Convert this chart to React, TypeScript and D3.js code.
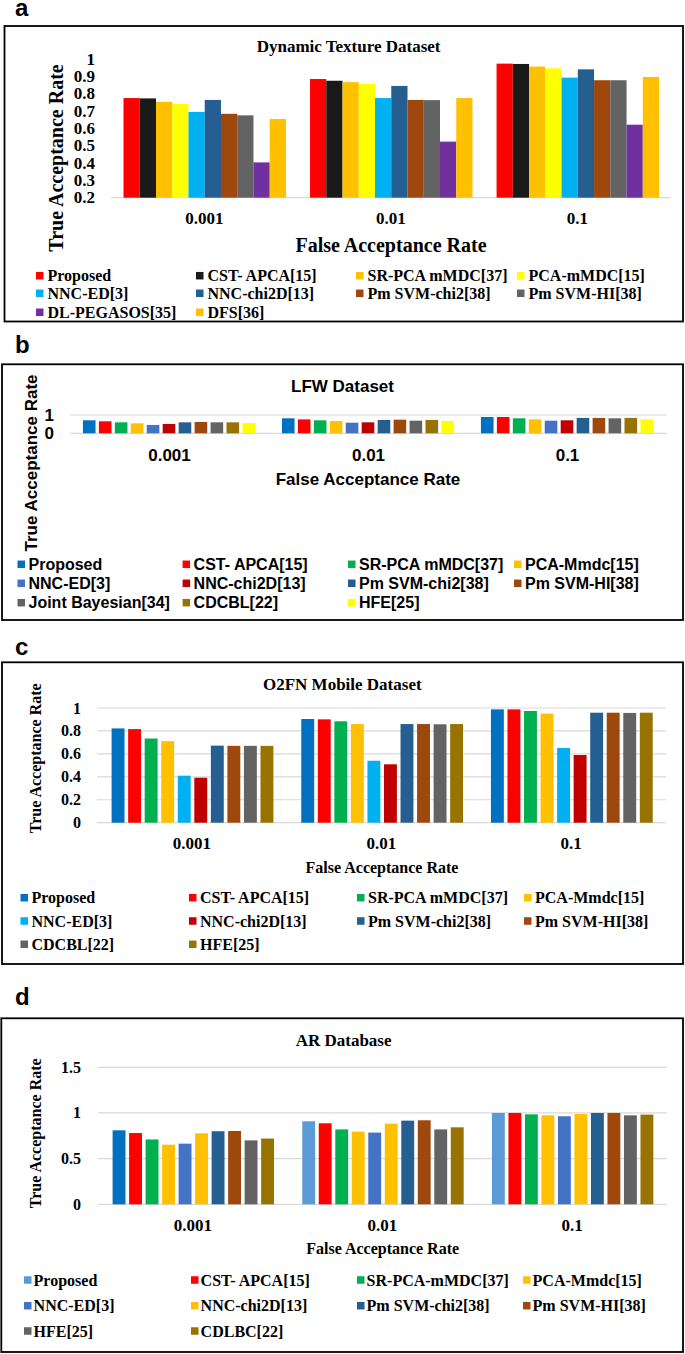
import React from "react";
import * as d3 from "d3";

const farCategories = ["0.001", "0.01", "0.1"];

// ---- Panel a: Dynamic Texture Dataset ----
const dtSeries = [
  "Proposed", "CST- APCA[15]", "SR-PCA mMDC[37]", "PCA-mMDC[15]",
  "NNC-ED[3]", "NNC-chi2D[13]", "Pm SVM-chi2[38]", "Pm SVM-HI[38]",
  "DL-PEGASOS[35]", "DFS[36]",
];
const dtColors = ["#FF0000", "#1A1A1A", "#FFC000", "#FFFF00", "#00B0F0", "#255E91", "#9E480E", "#636363", "#7030A0", "#FFC000"];
const dtValues = [
  [0.776, 0.886, 0.975],
  [0.774, 0.876, 0.973],
  [0.754, 0.868, 0.958],
  [0.742, 0.858, 0.948],
  [0.696, 0.776, 0.894],
  [0.765, 0.846, 0.942],
  [0.685, 0.765, 0.879],
  [0.676, 0.764, 0.879],
  [0.404, 0.524, 0.622],
  [0.655, 0.776, 0.898],
];
const dtTicks = [0.2, 0.3, 0.4, 0.5, 0.6, 0.7, 0.8, 0.9, 1];

// ---- Panel b: LFW Dataset ----
const lfwSeries = [
  "Proposed", "CST- APCA[15]", "SR-PCA mMDC[37]", "PCA-Mmdc[15]",
  "NNC-ED[3]", "NNC-chi2D[13]", "Pm SVM-chi2[38]", "Pm SVM-HI[38]",
  "Joint Bayesian[34]", "CDCBL[22]", "HFE[25]",
];
const lfwColors = ["#0070C0", "#FF0000", "#00B050", "#FFC000", "#4472C4", "#C00000", "#255E91", "#9E480E", "#636363", "#997300", "#FFFF00"];
const lfwValues = [
  [0.71, 0.82, 0.89],
  [0.655, 0.76, 0.89],
  [0.6, 0.71, 0.82],
  [0.545, 0.67, 0.76],
  [0.455, 0.58, 0.69],
  [0.51, 0.6, 0.71],
  [0.6, 0.73, 0.84],
  [0.62, 0.745, 0.84],
  [0.6, 0.69, 0.82],
  [0.6, 0.73, 0.84],
  [0.56, 0.67, 0.76],
];
const lfwTicks = [0, 1];

// ---- Panel c: O2FN Mobile Dataset ----
const o2fnSeries = [
  "Proposed", "CST- APCA[15]", "SR-PCA mMDC[37]", "PCA-Mmdc[15]",
  "NNC-ED[3]", "NNC-chi2D[13]", "Pm SVM-chi2[38]", "Pm SVM-HI[38]",
  "CDCBL[22]", "HFE[25]",
];
const o2fnColors = ["#0070C0", "#FF0000", "#00B050", "#FFC000", "#00B0F0", "#C00000", "#255E91", "#9E480E", "#636363", "#997300"];
const o2fnValues = [
  [0.822, 0.904, 0.988],
  [0.816, 0.901, 0.988],
  [0.734, 0.884, 0.974],
  [0.711, 0.86, 0.951],
  [0.41, 0.54, 0.651],
  [0.392, 0.509, 0.59],
  [0.672, 0.86, 0.959],
  [0.67, 0.86, 0.959],
  [0.67, 0.858, 0.957],
  [0.67, 0.86, 0.959],
];
const o2fnTicks = [0, 0.2, 0.4, 0.6, 0.8, 1];

// ---- Panel d: AR Database ----
const arSeries = [
  "Proposed", "CST- APCA[15]", "SR-PCA-mMDC[37]", "PCA-Mmdc[15]",
  "NNC-ED[3]", "NNC-chi2D[13]", "Pm SVM-chi2[38]", "Pm SVM-HI[38]",
  "HFE[25]", "CDLBC[22]",
];
const arColors = ["#5B9BD5", "#FF0000", "#00B050", "#FFC000", "#4472C4", "#FFC000", "#255E91", "#9E480E", "#636363", "#997300"];
const arValues = [
  [0.81, 0.909, 1.0],
  [0.78, 0.887, 1.0],
  [0.71, 0.82, 0.985],
  [0.653, 0.796, 0.974],
  [0.664, 0.785, 0.964],
  [0.777, 0.883, 0.989],
  [0.8, 0.916, 1.0],
  [0.803, 0.92, 1.0],
  [0.7, 0.82, 0.974],
  [0.72, 0.843, 0.982],
];
const arTicks = [0, 0.5, 1, 1.5];

const SERIF = "'Liberation Serif', 'Times New Roman', serif";
const SANS = "'Liberation Sans', Arial, sans-serif";
const GRID = "#D9D9D9";

type Cfg = {
  letter: string; letterY: number;
  box: [number, number, number, number];
  font: string;
  title: string; titleX: number; titleY: number; titleSize: number;
  yDomain: [number, number]; yRange: [number, number]; ticks: number[];
  tickX: number; tickSize: number; grid: boolean;
  yTitleX: number; yTitleY: number; yTitleSize: number;
  xRange: [number, number]; groupPad: [number, number]; barPad: number;
  catY: number; catSize: number;
  xTitleX: number; xTitleY: number; xTitleSize: number;
  legendRows: number[]; legendCols: number[]; legendDx: number; legendSize: number; swatch: number;
  series: string[]; colors: string[]; values: number[][];
  firstGroupColor?: string;
};

function Panel({ c }: { c: Cfg }) {
  const y = d3.scaleLinear().domain(c.yDomain).range(c.yRange);
  const x0 = d3.scaleBand<string>().domain(farCategories).range(c.xRange);
  const bw = x0.bandwidth();
  const x1 = d3
    .scaleBand<string>()
    .domain(c.series)
    .range([bw * c.groupPad[0], bw * c.groupPad[1]])
    .paddingInner(c.barPad);
  const base = y(c.yDomain[0]);
  return (
    <g>
      <text x={15} y={c.letterY} fontFamily={SANS} fontWeight="bold" fontSize={24}>{c.letter}</text>
      <rect x={c.box[0]} y={c.box[1]} width={c.box[2]} height={c.box[3]} fill="#fff" stroke="#000" strokeWidth={1.8} />
      <text x={c.titleX} y={c.titleY} textAnchor="middle" dominantBaseline="central" fontFamily={c.font} fontWeight="bold" fontSize={c.titleSize}>{c.title}</text>
      {c.ticks.map((t) => (
        <g key={t}>
          {(c.grid || t === c.yDomain[0]) && (
            <line x1={c.xRange[0]} x2={c.xRange[1]} y1={y(t)} y2={y(t)} stroke={GRID} strokeWidth={1.2} />
          )}
          <text x={c.tickX} y={y(t)} textAnchor="end" dominantBaseline="central" fontFamily={c.font} fontWeight="bold" fontSize={c.tickSize}>{String(t)}</text>
        </g>
      ))}
      <text transform={`translate(${c.yTitleX},${c.yTitleY}) rotate(-90)`} textAnchor="middle" dominantBaseline="central" fontFamily={c.font} fontWeight="bold" fontSize={c.yTitleSize}>True Acceptance Rate</text>
      {farCategories.map((cat, gi) => (
        <g key={cat} transform={`translate(${x0(cat)},0)`}>
          {c.series.map((s, si) => {
            const v = c.values[si][gi];
            const col = gi === 0 && si === 0 && c.firstGroupColor ? c.firstGroupColor : c.colors[si];
            return <rect key={s} x={x1(s)} y={y(v)} width={x1.bandwidth()} height={base - y(v)} fill={col} />;
          })}
          <text x={bw / 2} y={c.catY} textAnchor="middle" dominantBaseline="central" fontFamily={c.font} fontWeight="bold" fontSize={c.catSize}>{cat}</text>
        </g>
      ))}
      <text x={c.xTitleX} y={c.xTitleY} textAnchor="middle" dominantBaseline="central" fontFamily={c.font} fontWeight="bold" fontSize={c.xTitleSize}>False Acceptance Rate</text>
      {c.series.map((s, i) => {
        const r = Math.floor(i / 4);
        const col = i % 4;
        const lx = c.legendCols[col];
        const ly = c.legendRows[r];
        return (
          <g key={s}>
            <rect x={lx} y={ly - c.swatch / 2} width={c.swatch} height={c.swatch} fill={c.colors[i]} />
            <text x={lx + c.legendDx} y={ly} dominantBaseline="central" fontFamily={c.font} fontWeight="bold" fontSize={c.legendSize}>{s}</text>
          </g>
        );
      })}
    </g>
  );
}

const panelA: Cfg = {
  letter: "a", letterY: 16, box: [4.5, 26, 678.5, 295.5], font: SERIF,
  title: "Dynamic Texture Dataset", titleX: 348.6, titleY: 46.7, titleSize: 17,
  yDomain: [0.2, 1], yRange: [197.7, 59.3], ticks: dtTicks, tickX: 95, tickSize: 17, grid: false,
  yTitleX: 55.5, yTitleY: 158, yTitleSize: 20,
  xRange: [111, 670.6], groupPad: [0.067, 0.938], barPad: 0,
  catY: 218, catSize: 17, xTitleX: 391, xTitleY: 245, xTitleSize: 20,
  legendRows: [275.7, 293.3, 312.3], legendCols: [36, 196, 356, 517], legendDx: 11.5, legendSize: 16, swatch: 7.5,
  series: dtSeries, colors: dtColors, values: dtValues,
};

const panelB: Cfg = {
  letter: "b", letterY: 353.3, box: [2, 364.3, 681, 255.7], font: SANS,
  title: "LFW Dataset", titleX: 342.5, titleY: 386.7, titleSize: 17,
  yDomain: [0, 1], yRange: [433.3, 415], ticks: lfwTicks, tickX: 54, tickSize: 17, grid: true,
  yTitleX: 31.5, yTitleY: 463, yTitleSize: 17,
  xRange: [70, 667], groupPad: [0.065, 0.93], barPad: 0.21,
  catY: 455, catSize: 17, xTitleX: 368, xTitleY: 479, xTitleSize: 17,
  legendRows: [564.3, 583.3, 602.7], legendCols: [17.5, 182.6, 348, 514], legendDx: 11, legendSize: 16, swatch: 7.5,
  series: lfwSeries, colors: lfwColors, values: lfwValues,
};

const panelC: Cfg = {
  letter: "c", letterY: 655, box: [2, 662.3, 681, 301.7], font: SERIF,
  title: "O2FN Mobile Dataset", titleX: 342.3, titleY: 684.3, titleSize: 17,
  yDomain: [0, 1], yRange: [822.7, 708], ticks: o2fnTicks, tickX: 81, tickSize: 16, grid: true,
  yTitleX: 35.8, yTitleY: 758.3, yTitleSize: 16,
  xRange: [97, 666], groupPad: [0.077, 0.93], barPad: 0.22,
  catY: 843.3, catSize: 17, xTitleX: 382, xTitleY: 867.3, xTitleSize: 16,
  legendRows: [897.7, 921, 944.3], legendCols: [20.5, 189, 357, 524], legendDx: 11, legendSize: 16, swatch: 7.5,
  series: o2fnSeries, colors: o2fnColors, values: o2fnValues,
};

const panelD: Cfg = {
  letter: "d", letterY: 1005, box: [1.3, 1018.3, 681.7, 333.7], font: SERIF,
  title: "AR Database", titleX: 343.6, titleY: 1040, titleSize: 17,
  yDomain: [0, 1.5], yRange: [1204.3, 1067.3], ticks: arTicks, tickX: 81, tickSize: 16, grid: true,
  yTitleX: 35.8, yTitleY: 1133.3, yTitleSize: 16,
  xRange: [98, 667], groupPad: [0.077, 0.928], barPad: 0.22,
  catY: 1225, catSize: 17, xTitleX: 382.7, xTitleY: 1248.3, xTitleSize: 16,
  legendRows: [1280, 1305.7, 1331], legendCols: [24, 191, 357, 523], legendDx: 9.6, legendSize: 16, swatch: 7.5,
  series: arSeries, colors: arColors, values: arValues,
  firstGroupColor: "#0070C0",
};

export default function App() {
  return (
    <svg
      width={685}
      height={1354}
      viewBox="0 0 685 1354"
      style={{ position: "absolute", left: 0, top: 0, background: "#fff" }}
    >
      <rect x={0} y={0} width={685} height={1354} fill="#fff" />
      <Panel c={panelA} />
      <Panel c={panelB} />
      <Panel c={panelC} />
      <Panel c={panelD} />
    </svg>
  );
}
